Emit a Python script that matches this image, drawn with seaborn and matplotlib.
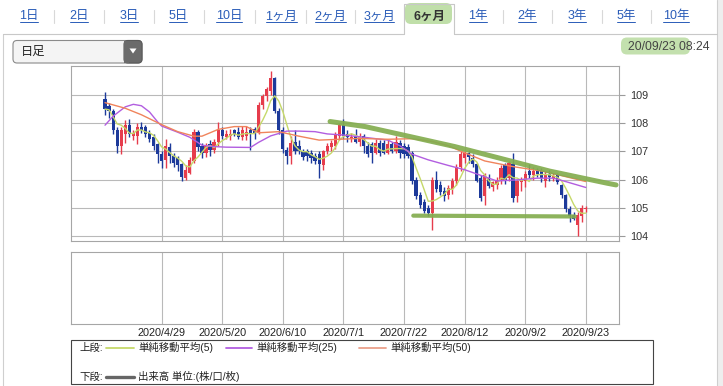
import numpy as np
import pandas as pd
import matplotlib
matplotlib.use("Agg")
import matplotlib.pyplot as plt
from matplotlib.patches import FancyBboxPatch, Rectangle, Polygon
import seaborn as sns

sns.set_theme(style="white")
plt.rcParams["font.family"] = ["Liberation Sans", "Noto Sans CJK JP", "DejaVu Sans"]

# ---------------- data ----------------
start_date = "2020-04-09"
end_date = "2020-09-23"

opens = [108.85, 108.60, 108.45, 107.75, 107.20, 107.60, 107.95, 107.55, 107.55, 107.85,
         107.85, 107.65, 107.50, 107.25, 106.90, 106.70, 107.15, 106.85, 106.75, 106.55,
         106.05, 106.25, 106.65, 107.70, 107.20, 106.95, 107.25, 107.05, 107.35, 107.75,
         107.50, 107.55, 107.75, 107.70, 107.50, 107.55, 107.75, 107.80, 107.65, 108.65,
         108.95, 109.15, 109.60, 108.45, 107.75, 107.05, 106.85, 107.35, 107.20, 107.00,
         107.00, 106.95, 106.85, 106.90, 106.50, 107.00, 107.15, 107.20, 107.55, 107.95,
         107.60, 107.45, 107.55, 107.35, 107.55, 107.20, 107.25, 106.95, 107.30, 107.30,
         106.95, 107.25, 107.00, 107.30, 107.20, 107.15, 106.95, 106.00, 105.45, 105.20,
         105.00, 104.80, 106.00, 105.80, 105.60, 105.45, 105.65, 105.95, 106.45, 106.75,
         106.95, 106.75, 106.55, 106.05, 105.40, 106.05, 105.72, 105.80, 105.95, 106.50,
         106.05, 106.55, 105.42, 105.90, 105.95, 106.30, 106.15, 106.32, 106.30, 105.95,
         106.20, 106.05, 106.15, 105.80, 105.45, 104.95, 104.75, 104.40, 104.70, 104.95]
highs = [109.10, 108.70, 108.50, 107.85, 107.85, 108.10, 108.15, 107.75, 108.00, 108.05,
         107.95, 107.75, 107.60, 107.30, 107.00, 107.45, 107.30, 106.95, 106.85, 106.60,
         106.50, 106.80, 107.80, 107.75, 107.30, 107.30, 107.40, 107.45, 108.05, 107.85,
         107.75, 107.80, 107.80, 107.85, 107.90, 107.90, 107.85, 107.85, 108.75, 109.05,
         109.30, 109.85, 109.65, 108.55, 107.85, 107.15, 107.55, 107.75, 107.40, 107.10,
         107.10, 107.05, 106.95, 107.00, 107.05, 107.30, 107.40, 107.70, 108.00, 108.15,
         107.75, 107.65, 107.80, 107.65, 107.60, 107.35, 107.35, 107.45, 107.40, 107.40,
         107.40, 107.35, 107.55, 107.40, 107.30, 107.25, 107.00, 106.10, 105.55, 105.30,
         105.10, 106.10, 106.30, 105.95, 105.75, 105.80, 106.05, 106.55, 107.00, 107.00,
         107.05, 106.90, 106.60, 106.15, 106.25, 106.20, 105.95, 106.10, 106.50, 106.60,
         106.65, 106.95, 106.00, 106.10, 106.30, 106.55, 106.45, 106.40, 106.40, 106.30,
         106.35, 106.25, 106.25, 105.85, 105.50, 105.05, 104.85, 104.85, 105.10, 105.05]
lows = [108.30, 108.20, 107.60, 106.95, 106.90, 107.30, 107.50, 107.40, 107.25, 107.65,
        107.50, 107.35, 107.05, 106.60, 106.40, 106.40, 106.60, 106.45, 106.30, 105.95,
        105.98, 106.20, 106.60, 107.00, 106.75, 106.80, 106.85, 106.95, 107.20, 107.45,
        107.45, 107.40, 107.55, 107.45, 107.40, 107.40, 107.05, 107.45, 107.60, 108.50,
        108.80, 109.00, 108.35, 107.60, 106.95, 106.55, 106.55, 106.90, 106.90, 106.70,
        106.65, 106.60, 106.55, 106.07, 106.35, 106.90, 107.00, 107.10, 107.40, 107.45,
        107.35, 107.35, 107.30, 107.20, 106.95, 106.80, 106.60, 106.90, 106.85, 106.90,
        106.90, 106.95, 106.95, 106.75, 106.75, 106.75, 105.85, 105.30, 105.00, 104.80,
        104.70, 104.20, 105.55, 105.45, 105.25, 105.30, 105.50, 105.80, 106.30, 106.60,
        106.60, 106.45, 105.90, 105.25, 105.10, 105.70, 105.60, 105.65, 105.85, 105.85,
        105.95, 105.20, 105.20, 105.60, 105.75, 106.05, 106.00, 106.10, 105.90, 105.75,
        105.95, 105.95, 105.85, 105.35, 104.85, 104.50, 104.55, 104.00, 104.50, 104.85]
closes = [108.50, 108.45, 107.75, 107.20, 107.75, 107.95, 107.60, 107.65, 107.85, 107.75,
          107.60, 107.45, 107.20, 106.90, 106.65, 107.20, 106.85, 106.60, 106.50, 106.10,
          106.35, 106.70, 107.70, 107.15, 106.95, 107.20, 107.05, 107.35, 107.75, 107.55,
          107.60, 107.62, 107.60, 107.50, 107.75, 107.70, 107.60, 107.60, 108.65, 108.95,
          109.20, 109.60, 108.45, 107.75, 107.10, 106.85, 107.30, 107.00, 107.00, 106.80,
          106.85, 106.75, 106.65, 106.55, 107.00, 107.20, 107.30, 107.60, 107.95, 107.55,
          107.50, 107.52, 107.35, 107.55, 107.20, 106.90, 106.95, 107.30, 106.95, 106.95,
          107.25, 107.00, 107.35, 106.95, 106.90, 106.85, 105.95, 105.40, 105.10, 104.90,
          104.80, 106.00, 105.65, 105.55, 105.40, 105.70, 105.95, 106.45, 106.90, 106.95,
          106.80, 106.55, 105.95, 105.35, 106.15, 105.78, 105.90, 106.00, 106.42, 105.95,
          106.60, 105.35, 105.95, 106.00, 106.20, 106.15, 106.30, 106.20, 106.05, 106.20,
          106.10, 106.12, 105.90, 105.45, 104.95, 104.70, 104.60, 104.75, 105.00, 105.00]

# 25- and 50-day simple moving averages (day index, value)
ma25_day = [0, 2, 5, 7, 9, 11, 13, 14, 18, 21, 24, 27, 30, 36, 38, 41, 45, 48, 52, 55,
            59, 63, 70, 73, 76, 80, 85, 89, 93, 97, 102, 107, 111, 114, 119]
ma25_val = [107.93, 108.25, 108.58, 108.67, 108.62, 108.40, 108.05, 107.90, 107.68, 107.50,
            107.22, 107.17, 107.15, 107.14, 107.32, 107.55, 107.72, 107.72, 107.70, 107.62,
            107.58, 107.52, 107.40, 107.20, 106.90, 106.70, 106.50, 106.35, 106.15, 105.95,
            105.99, 106.05, 106.05, 105.93, 105.72]
ma50_day = [0, 5, 9, 14, 18, 22, 24, 28, 32, 35, 38, 43, 48, 53, 58, 63, 70, 76, 81, 85,
            89, 94, 101, 109, 119]
ma50_val = [108.73, 108.53, 108.30, 107.95, 107.70, 107.54, 107.54, 107.78, 107.88, 107.88,
            107.66, 107.70, 107.54, 107.40, 107.43, 107.46, 107.43, 107.45, 107.35, 107.20,
            106.95, 106.66, 106.46, 106.28, 105.93]

# hand-drawn green trend lines (day index, price)
trend_hi_day = [55.7, 64.4, 73.8, 86.6, 110.1, 124.3, 126.5]
trend_hi_val = [108.06, 107.88, 107.58, 107.17, 106.30, 105.87, 105.81]
trend_lo_day = [76.3, 116.3]
trend_lo_val = [104.72, 104.69]

tick_dates = ["2020-04-29", "2020-05-20", "2020-06-10", "2020-07-01",
              "2020-07-22", "2020-08-12", "2020-09-02", "2020-09-23"]
tick_labels = ["2020/4/29", "2020/5/20", "2020/6/10", "2020/7/1",
               "2020/7/22", "2020/8/12", "2020/9/2", "2020/9/23"]
price_ticks = [104, 105, 106, 107, 108, 109]

tabs = ["1日", "2日", "3日", "5日", "10日", "1ヶ月", "2ヶ月", "3ヶ月", "6ヶ月",
        "1年", "2年", "3年", "5年", "10年"]
active_tab = "6ヶ月"
timestamp = "20/09/23 08:24"
dropdown_label = "日足"
legend_upper = ["単純移動平均(5)", "単純移動平均(25)", "単純移動平均(50)"]
legend_lower = "出来高 単位:(株/口/枚)"

# ---------------- build frame ----------------
dates = pd.bdate_range(start_date, end_date)
df = pd.DataFrame({"date": dates, "open": opens, "high": highs, "low": lows, "close": closes})
df["day"] = np.arange(len(df))
df["ma5"] = df["close"].rolling(5, min_periods=1).mean()
tick_pos = [int(df.index[df["date"] == pd.Timestamp(d)][0]) for d in tick_dates]

W, H = 723, 386
fig = plt.figure(figsize=(W / 100, H / 100), dpi=100)
fig.patch.set_facecolor("white")

bg = fig.add_axes([0, 0, 1, 1], zorder=0)
bg.set_xlim(0, W)
bg.set_ylim(H, 0)
bg.axis("off")

RED = "#e63c4c"
BLUE = "#1d3a9a"
MA5C = "#c6d96a"
MA25C = "#b25ee0"
MA50C = "#f0845c"
GREEN = "#83ad4f"
GRID = "#b9b9b9"
LINK = "#2a5cb8"

# right side strip and frame
bg.add_patch(Rectangle((717, 0), W - 717, H, facecolor="#eeeeee", edgecolor="none"))
bg.plot([717, 717], [0, H], color="#cfcfcf", lw=0.8)
bg.plot([2.5, 2.5], [34, H], color="#cfcfcf", lw=0.8)

# tab bar
tab_x = [29, 79, 129, 178, 229, 281, 330, 379, 429, 478, 527, 577, 626, 676]
ai = tabs.index(active_tab)
bg.plot([2.5, 404], [34, 34], color="#c8c8c8", lw=0.8)
bg.plot([454, 717], [34, 34], color="#c8c8c8", lw=0.8)
bg.plot([404, 404, 454, 454], [34, 4, 4, 34], color="#c8c8c8", lw=0.8)
bg.add_patch(FancyBboxPatch((405, 3), 47, 21, boxstyle="round,pad=0,rounding_size=6",
                            facecolor="#b9dca0", edgecolor="none", alpha=0.9, zorder=1))
for k in range(len(tabs) - 1):
    if k in (ai - 1, ai):
        continue
    xm = (tab_x[k] + tab_x[k + 1]) / 2
    bg.plot([xm, xm], [10, 23], color="#d8d8d8", lw=0.8)
link_texts = []
for k, t in enumerate(tabs):
    if k == ai:
        bg.text(tab_x[k], 16.5, t, ha="center", va="center", fontsize=9,
                color="#333333", fontweight="bold", zorder=3)
    else:
        tt = bg.text(tab_x[k], 16.5, t, ha="center", va="center", fontsize=9,
                     color=LINK, zorder=3)
        link_texts.append(tt)

# dropdown
bg.add_patch(FancyBboxPatch((13, 40.5), 129, 22.5, boxstyle="round,pad=0,rounding_size=4",
                            facecolor="#f4f4f4", edgecolor="#8a8a8a", lw=0.8, zorder=2))
bg.add_patch(FancyBboxPatch((124, 40.5), 18, 22.5, boxstyle="round,pad=0,rounding_size=4",
                            facecolor="#6b6b6b", edgecolor="#5a5a5a", lw=0.8, zorder=3))
bg.add_patch(Rectangle((124, 40.9), 5, 21.7, facecolor="#6b6b6b", edgecolor="none", zorder=3))
bg.add_patch(Polygon([[129.5, 48.5], [136.5, 48.5], [133, 53.5]], closed=True,
                     facecolor="white", edgecolor="none", zorder=4))
bg.text(21, 52, dropdown_label, ha="left", va="center", fontsize=8.8, color="#222222", zorder=4)

# timestamp
bg.add_patch(FancyBboxPatch((621, 37.5), 69, 17, boxstyle="round,pad=0,rounding_size=6",
                            facecolor="#bddda5", edgecolor="none", alpha=0.9, zorder=1))
bg.text(709, 46.5, timestamp, ha="right", va="center", fontsize=8.8, color="#444444", zorder=3)

# ---------------- main price chart ----------------
X0, X1 = 70.7, 619.3
ax = fig.add_axes([X0 / W, 1 - 241 / H, (X1 - X0) / W, (241 - 66) / H], zorder=2)
ax.set_facecolor("white")
ax.set_xlim(-8.5, 127.3)
ax.set_ylim(103.82, 110.03)
ax.set_xticks(tick_pos)
ax.set_yticks(price_ticks)
ax.grid(True, color=GRID, lw=0.8)
ax.set_axisbelow(True)
for s in ax.spines.values():
    s.set_color("#a6a6a6")
    s.set_linewidth(0.8)
ax.yaxis.tick_right()
ax.tick_params(axis="x", length=0, labelbottom=False, bottom=False)
ax.tick_params(axis="y", right=True, left=False, length=4.5, width=0.8, color="#9a9a9a",
               labelsize=7.8, labelcolor="#333333", pad=3)
ax.set_yticklabels([str(v) for v in price_ticks])

up = df["close"] >= df["open"]
cols = np.where(up, RED, BLUE)
ax.vlines(df["day"], df["low"], df["high"], colors=cols, lw=1.0, zorder=3)
body_lo = np.minimum(df["open"], df["close"])
body_h = np.maximum(np.abs(df["close"] - df["open"]), 0.03)
ax.bar(df["day"], body_h, bottom=body_lo, width=0.8, color=cols, linewidth=0, zorder=4)

sns.lineplot(x=df["day"], y=df["ma5"], ax=ax, color=MA5C, lw=1.0, legend=False, zorder=5)
sns.lineplot(x=ma25_day, y=ma25_val, ax=ax, color=MA25C, lw=1.0, legend=False, zorder=5)
sns.lineplot(x=ma50_day, y=ma50_val, ax=ax, color=MA50C, lw=1.0, legend=False, zorder=5)
ax.plot(trend_hi_day, trend_hi_val, color=GREEN, lw=3.6, alpha=0.92,
        solid_capstyle="round", solid_joinstyle="round", zorder=6, clip_on=False)
ax.plot(trend_lo_day, trend_lo_val, color=GREEN, lw=3.0, alpha=0.92,
        solid_capstyle="round", zorder=6)
ax.set_xlabel("")
ax.set_ylabel("")

# ---------------- volume panel (empty) ----------------
vax = fig.add_axes([X0 / W, 1 - 324 / H, (X1 - X0) / W, (324 - 251.5) / H], zorder=2)
vax.set_facecolor("white")
vax.set_xlim(-8.5, 127.3)
vax.set_ylim(0, 1)
vax.set_xticks(tick_pos)
vax.set_xticklabels(tick_labels)
vax.set_yticks([])
vax.grid(True, axis="x", color=GRID, lw=0.8)
for s in vax.spines.values():
    s.set_color("#a6a6a6")
    s.set_linewidth(0.8)
vax.tick_params(axis="x", length=0, labelsize=7.8, labelcolor="#222222", pad=3)

# ---------------- legend box ----------------
bg.add_patch(Rectangle((70.5, 339.5), 582.5, 44.5, facecolor="white", edgecolor="#444444",
                       lw=0.8, zorder=2))
bg.text(79, 347.5, "上段:", ha="left", va="center", fontsize=7.5, color="#222222", zorder=3)
lg_line_x = [(106, 134), (226, 252), (359, 386)]
lg_text_x = [138, 256, 390]
lg_cols = [MA5C, MA25C, "#eba08a"]
for (a, b), tx, c, lab in zip(lg_line_x, lg_text_x, lg_cols, legend_upper):
    bg.plot([a, b], [347.5, 347.5], color=c, lw=1.3, zorder=3)
    bg.text(tx, 347.5, lab, ha="left", va="center", fontsize=7.5, color="#222222", zorder=3)
bg.text(79, 376.5, "下段:", ha="left", va="center", fontsize=7.5, color="#222222", zorder=3)
bg.plot([106, 134], [376.5, 376.5], color="#666666", lw=2.4, zorder=3)
bg.text(138, 376.5, legend_lower, ha="left", va="center", fontsize=7.5, color="#222222", zorder=3)

# underline the tab links
fig.canvas.draw()
r = fig.canvas.get_renderer()
for tt in link_texts:
    bb = tt.get_window_extent(r)
    yb = H - bb.y0 - 0.5
    bg.plot([bb.x0 + 0.5, bb.x1 - 0.5], [yb, yb], color=LINK, lw=0.7, zorder=3)

fig.savefig("out.png", dpi=100)
